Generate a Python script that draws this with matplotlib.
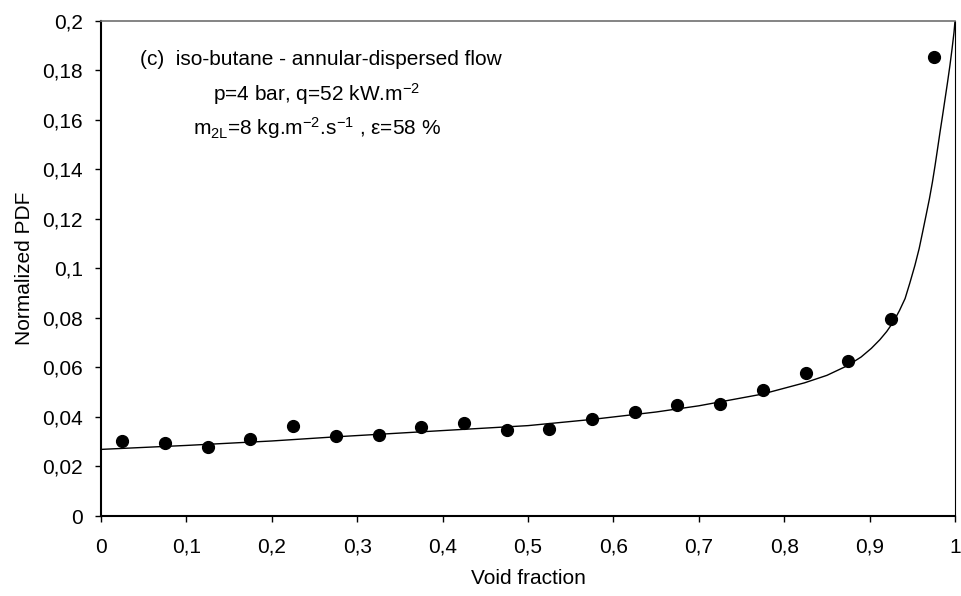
import matplotlib
matplotlib.use("Agg")
import matplotlib.pyplot as plt

plt.rcParams['font.family'] = ['Liberation Sans', 'DejaVu Sans']
plt.rcParams['mathtext.default'] = 'regular'

# measured points
void_x = [0.025, 0.075, 0.125, 0.175, 0.225, 0.275, 0.325, 0.375, 0.425, 0.475,
          0.525, 0.575, 0.625, 0.675, 0.725, 0.775, 0.825, 0.875, 0.925, 0.975]
pdf_y = [0.0302, 0.0293, 0.0278, 0.0310, 0.0363, 0.0323, 0.0329, 0.0358, 0.0374, 0.0347,
         0.0352, 0.0392, 0.0422, 0.0449, 0.0452, 0.0507, 0.0577, 0.0624, 0.0794, 0.1855]

# fitted curve
curve_x = [0.0, 0.1, 0.2, 0.276, 0.4, 0.5, 0.575, 0.65, 0.7, 0.774, 0.824, 0.85,
           0.874, 0.89, 0.902, 0.912, 0.920, 0.928, 0.935, 0.9415, 0.947, 0.953,
           0.958, 0.962, 0.966, 0.970, 0.9735, 0.9766, 0.9795, 0.9824, 0.9854,
           0.9883, 0.9912, 0.994, 0.9965, 0.9988, 1.0]
curve_y = [0.0269, 0.0285, 0.0303, 0.0320, 0.0345, 0.0365, 0.0390, 0.0420, 0.0445,
           0.0492, 0.0538, 0.0568, 0.0607, 0.0642, 0.0677, 0.0712, 0.0745, 0.0785,
           0.0830, 0.0878, 0.0940, 0.1012, 0.1080, 0.1146, 0.1213, 0.1281, 0.1348,
           0.1415, 0.1482, 0.1550, 0.1617, 0.1684, 0.1751, 0.1819, 0.1886, 0.1953, 0.2000]

xticks = [0, 0.1, 0.2, 0.3, 0.4, 0.5, 0.6, 0.7, 0.8, 0.9, 1.0]
xtick_labels = ['0', '0,1', '0,2', '0,3', '0,4', '0,5', '0,6', '0,7', '0,8', '0,9', '1']
yticks = [0, 0.02, 0.04, 0.06, 0.08, 0.1, 0.12, 0.14, 0.16, 0.18, 0.2]
ytick_labels = ['0', '0,02', '0,04', '0,06', '0,08', '0,1', '0,12', '0,14', '0,16', '0,18', '0,2']

fig = plt.figure(figsize=(9.61, 5.96), dpi=100)
ax = fig.add_axes([0.1051, 0.1342, 0.8887, 0.8311])

ax.plot(curve_x, curve_y, color='black', lw=1.0)
ax.plot(void_x, pdf_y, 'o', color='black', ms=8.5, clip_on=False)

ax.set_xlim(0, 1)
ax.set_ylim(0, 0.2)
ax.set_xticks(xticks)
ax.set_xticklabels(xtick_labels)
ax.set_yticks(yticks)
ax.set_yticklabels(ytick_labels)
ax.tick_params(axis='x', direction='out', length=4.5, width=1, pad=11, labelsize=15)
ax.tick_params(axis='y', direction='out', length=4, width=1, pad=9, labelsize=15)

ax.spines['left'].set_linewidth(1.5)
ax.spines['bottom'].set_linewidth(1.5)
ax.spines['top'].set_color('#707070')
ax.spines['top'].set_linewidth(1.2)
ax.spines['right'].set_linewidth(0.8)

ax.set_xlabel('Void fraction', fontsize=15, labelpad=9)
ax.set_ylabel('Normalized PDF', fontsize=15, labelpad=6)

ax.text(0.2576, 0.9106, '(c)  iso-butane - annular-dispersed flow', transform=ax.transAxes,
        ha='center', va='baseline', fontsize=15)
ax.text(0.253, 0.8379, 'p=4 bar, q=52 kW.m$^{-2}$', transform=ax.transAxes,
        ha='center', va='baseline', fontsize=15)
ax.text(0.253, 0.7706, 'm$_{2L}$=8 kg.m$^{-2}$.s$^{-1}$ , ε=58 %', transform=ax.transAxes,
        ha='center', va='baseline', fontsize=15)

fig.savefig('out.png', dpi=100)
